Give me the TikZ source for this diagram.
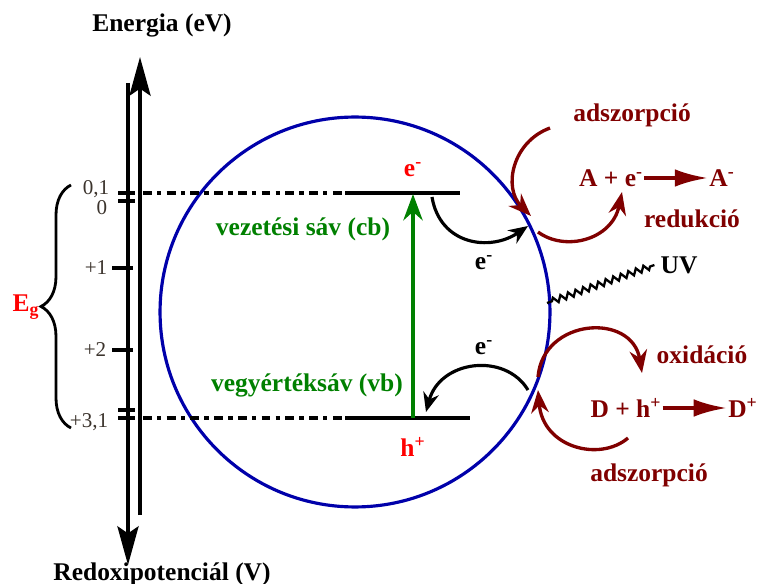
\documentclass[tikz,border=0pt]{standalone}
\usepackage{fontspec}
\setmainfont{Liberation Serif}
\usetikzlibrary{arrows.meta}
\usetikzlibrary{decorations.pathreplacing,decorations.pathmorphing}
\definecolor{dred}{RGB}{128,0,0}
\definecolor{dgreen}{RGB}{0,128,0}
\definecolor{cblue}{RGB}{0,0,170}
\definecolor{tickcol}{RGB}{60,52,45}
\newcommand{\bigbf}{\fontsize{14.5}{16}\selectfont\bfseries}
\newcommand{\elec}{e\textsuperscript{-}}
\newcommand{\hole}{h\textsuperscript{+}}

\begin{document}
\begin{tikzpicture}[x=0.02cm,y=-0.02cm,
  lbl/.style={font=\bigbf},
  ticklbl/.style={font=\fontsize{12}{14}\selectfont,text=tickcol},
  axis/.style={line width=2.1pt,-{Stealth[length=22pt,width=12pt,inset=4pt]}},
  tickmark/.style={line width=2.1pt},
  level/.style={line width=2pt},
  levdash/.style={line width=2pt,dash pattern=on 5pt off 3pt on 2.5pt off 3pt},
  earr/.style={line width=1.8pt,-{Stealth[length=11pt,width=9pt]}},
  redarr/.style={dred,line width=1.9pt,-{Stealth[length=13pt,width=10pt]}},
  reac/.style={dred,line width=2.3pt,-{Latex[length=19pt,width=10pt]}},
  eqn/.style={lbl,text=dred,inner xsep=0.5pt}]
\useasboundingbox (0,0) rectangle (761,584);

%% energy axis
\node[lbl] (en) at (162,25) {Energia (eV)};
\node[lbl] (redox) at (162,574) {Redoxipotenciál (V)};
\draw[axis] (128,83) -- (128,565);
\draw[axis] (140,515) -- (140,57);

\draw[tickmark] (118,193) -- (135,193);
\draw[tickmark] (118,201) -- (135,201);
\draw[tickmark] (118,410) -- (135,410);
\draw[tickmark] (118,418) -- (135,418);
\foreach \yy in {268,350}
  \draw[tickmark] (112,\yy) -- (133,\yy);

\node[ticklbl] (t01) at (96,189) {0,1};
\node[ticklbl] (t0) at (102,208) {0};
\node[ticklbl] (t1) at (96,268) {+1};
\node[ticklbl] (t2) at (95,350) {+2};
\node[ticklbl] (t31) at (89,422) {+3,1};

\draw[line width=1.6pt,decorate,decoration={brace,amplitude=0.6cm}] (71,428) -- (71,185);
\node[lbl,text=red] (eg) at (26,307) {E\textsubscript{g}};

%% particle
\node[draw=cblue,line width=1.8pt,circle,minimum size=7.8cm] (pc) at (355,312) {};

\coordinate (cbL) at (143,193);
\coordinate (cbM) at (345,193);
\coordinate (cbR) at (460,193);
\coordinate (vbL) at (143,418);
\coordinate (vbM) at (345,418);
\coordinate (vbR) at (470,418);
\draw[levdash] (cbL) -- (cbM);
\draw[level] (cbM) -- (cbR);
\draw[levdash] (vbL) -- (vbM);
\draw[level] (vbM) -- (vbR);

\coordinate (vbX) at (413,418);
\coordinate (cbX) at (413,194);
\draw[dgreen,line width=2.2pt,-{Stealth[length=15pt,width=11pt]}] (vbX) -- (cbX);
\node[lbl,text=dgreen] (cb) at (303,229) {vezetési sáv (cb)};
\node[lbl,text=dgreen] (vb) at (307,385) {vegyértéksáv (vb)};
\node[lbl,text=red] (ecb) at (413,170) {\elec};
\node[lbl,text=red] (hvb) at (413,447) {\hole};

%% electron transfer
\coordinate (e1s) at (432,197);
\coordinate (e1t) at (528,226);
\coordinate (e2s) at (528,390);
\coordinate (e2t) at (426,412);
\draw[earr] (e1s) .. controls (440,245) and (490,252) .. (e1t);
\draw[earr] (e2s) .. controls (505,352) and (440,360) .. (e2t);
\node[lbl] (e1) at (484,263) {\elec};
\node[lbl] (e2) at (484,348) {\elec};

%% UV
\coordinate (uvs) at (547,303);
\node[lbl] (uv) at (679,265) {UV};
\draw[line width=1.3pt,decorate,decoration={zigzag,segment length=0.16cm,amplitude=0.06cm,pre length=3pt,post length=2pt}] (uvs) -- (uv.west);

%% reduction
\node[lbl,text=dred] (ads1) at (632,115) {adszorpció};
\node[eqn] (A1) at (611,178) {A + \elec};
\node[eqn] (A2) at (722,178) {A\textsuperscript{-}};
\node[lbl,text=dred] (red) at (692,219) {redukció};
\draw[reac] (A1.east) -- (A2.west);
\draw[redarr] (550,128) .. controls (512,142) and (503,188) .. (531,216);
\draw[redarr] (538,232) .. controls (565,252) and (612,240) .. (622,192);

%% oxidation
\node[lbl,text=dred] (ox) at (702,355) {oxidáció};
\node[eqn] (D1) at (626,408) {D + \hole};
\node[eqn] (D2) at (743,408) {D\textsuperscript{+}};
\node[lbl,text=dred] (ads2) at (649,475) {adszorpció};
\draw[reac] (D1.east) -- (D2.west);
\draw[redarr] (538,377) .. controls (543,318) and (632,312) .. (642,373);
\draw[redarr] (628,438) .. controls (600,462) and (543,448) .. (538,390);
\end{tikzpicture}
\end{document}
